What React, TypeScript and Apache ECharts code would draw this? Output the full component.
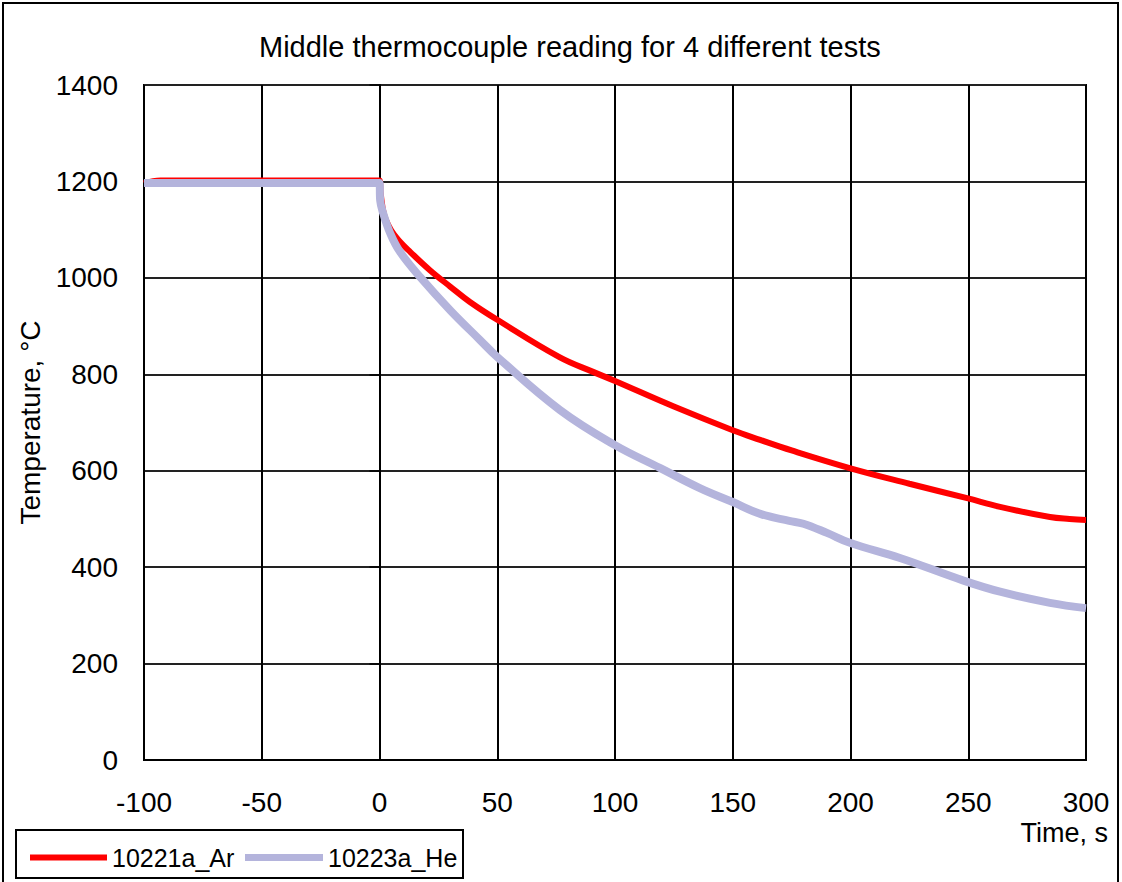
import React, { useEffect, useRef } from "react";
import * as echarts from "echarts";

const titleText = "Middle thermocouple reading for 4 different tests";
const seriesNames = ["10221a_Ar", "10223a_He"];

const timeAr = [-100, -93, 0, 0.5, 2, 5, 8.7, 13, 21.4, 30, 38.4, 50, 76.6, 90.7, 100, 125, 150, 161.6, 175, 200, 225, 249.5, 263.5, 284.7, 293, 300];
const tempAr = [1196, 1202, 1202, 1175, 1130, 1098, 1075, 1054, 1016, 982, 950, 913, 835, 805, 786, 733, 684, 664, 642, 605, 573, 543, 525, 504, 500, 498];

const timeHe = [-100, 0, 0.3, 1.5, 4.5, 8.7, 17.2, 30, 42.7, 50, 76.6, 100, 119, 136, 150, 162, 174, 180, 190, 200, 221, 248, 263.5, 284.7, 300];
const tempHe = [1197, 1197, 1160, 1135, 1093, 1054, 1002, 933, 871, 836, 726, 653, 606, 564, 535, 510, 496, 490, 471, 450, 419, 372, 349, 326, 315];

const FONT = "'Liberation Sans', Arial, sans-serif";
const RED = "#FF0000";
const LAVENDER = "#B4B4DC";

export default function App() {
  const ref = useRef<HTMLDivElement>(null);
  useEffect(() => {
    if (!ref.current) return;
    const chart = echarts.init(ref.current, null, { renderer: "svg" });
    const ar = timeAr.map((t, i) => [t, tempAr[i]]);
    const he = timeHe.map((t, i) => [t, tempHe[i]]);
    const legendText = { fontSize: 25, color: "#000", fontFamily: FONT };
    chart.setOption({
      animation: false,
      backgroundColor: "#fff",
      textStyle: { fontFamily: FONT, color: "#000" },
      title: {
        text: titleText,
        left: 254,
        top: 27,
        textStyle: { fontSize: 29, fontWeight: "normal", color: "#000", fontFamily: FONT },
      },
      grid: {
        left: 144,
        right: 36,
        top: 85,
        bottom: 122,
        show: true,
        borderColor: "#000",
        borderWidth: 2,
        backgroundColor: "#fff",
      },
      legend: [
        {
          data: [seriesNames[0]],
          left: 25,
          top: 840,
          icon: "rect",
          itemWidth: 77,
          itemHeight: 6,
          textStyle: legendText,
        },
        {
          data: [seriesNames[1]],
          left: 240,
          top: 840,
          icon: "rect",
          itemWidth: 78,
          itemHeight: 7,
          textStyle: legendText,
        },
      ],
      xAxis: {
        type: "value",
        min: -100,
        max: 300,
        interval: 50,
        axisLine: { show: true, onZero: false, lineStyle: { color: "#000", width: 2 } },
        axisTick: { show: false },
        splitLine: { show: true, lineStyle: { color: "#000", width: 2 } },
        axisLabel: { fontSize: 28, color: "#000", margin: 28, fontFamily: FONT, formatter: (v: number) => String(v) },
      },
      yAxis: {
        type: "value",
        min: 0,
        max: 1400,
        interval: 200,
        name: "Temperature, °C",
        nameLocation: "middle",
        nameRotate: 90,
        nameGap: 82,
        nameTextStyle: { fontSize: 28, color: "#000", fontFamily: FONT },
        axisLine: { show: true, lineStyle: { color: "#000", width: 2 } },
        axisTick: { show: true, length: 10, lineStyle: { color: "#000", width: 1.5 } },
        splitLine: { show: true, lineStyle: { color: "#222", width: 2 } },
        axisLabel: { fontSize: 28, color: "#000", margin: 26, fontFamily: FONT, formatter: (v: number) => String(v) },
      },
      graphic: [
        {
          type: "rect",
          shape: { x: 3, y: 3, width: 1115, height: 900 },
          style: { fill: "none", stroke: "#000", lineWidth: 2 },
          silent: true,
        },
        {
          type: "rect",
          shape: { x: 16, y: 830, width: 447, height: 48 },
          style: { fill: "none", stroke: "#000", lineWidth: 2 },
          silent: true,
        },
        {
          type: "text",
          x: 1108,
          y: 833,
          style: {
            text: "Time, s",
            fontSize: 27,
            fontFamily: FONT,
            fill: "#000",
            textAlign: "right",
            textVerticalAlign: "middle",
          },
        },
      ],
      series: [
        {
          name: seriesNames[0],
          type: "line",
          data: ar,
          showSymbol: false,
          symbol: "none",
          smooth: 0.4,
          lineStyle: { color: RED, width: 6 },
          itemStyle: { color: RED },
        },
        {
          name: seriesNames[1],
          type: "line",
          data: he,
          showSymbol: false,
          symbol: "none",
          smooth: 0.4,
          lineStyle: { color: LAVENDER, width: 8 },
          itemStyle: { color: LAVENDER },
        },
      ],
    });
    return () => chart.dispose();
  }, []);
  return (
    <div
      ref={ref}
      style={{ position: "absolute", left: 0, top: 0, width: 1122, height: 882 }}
    />
  );
}
